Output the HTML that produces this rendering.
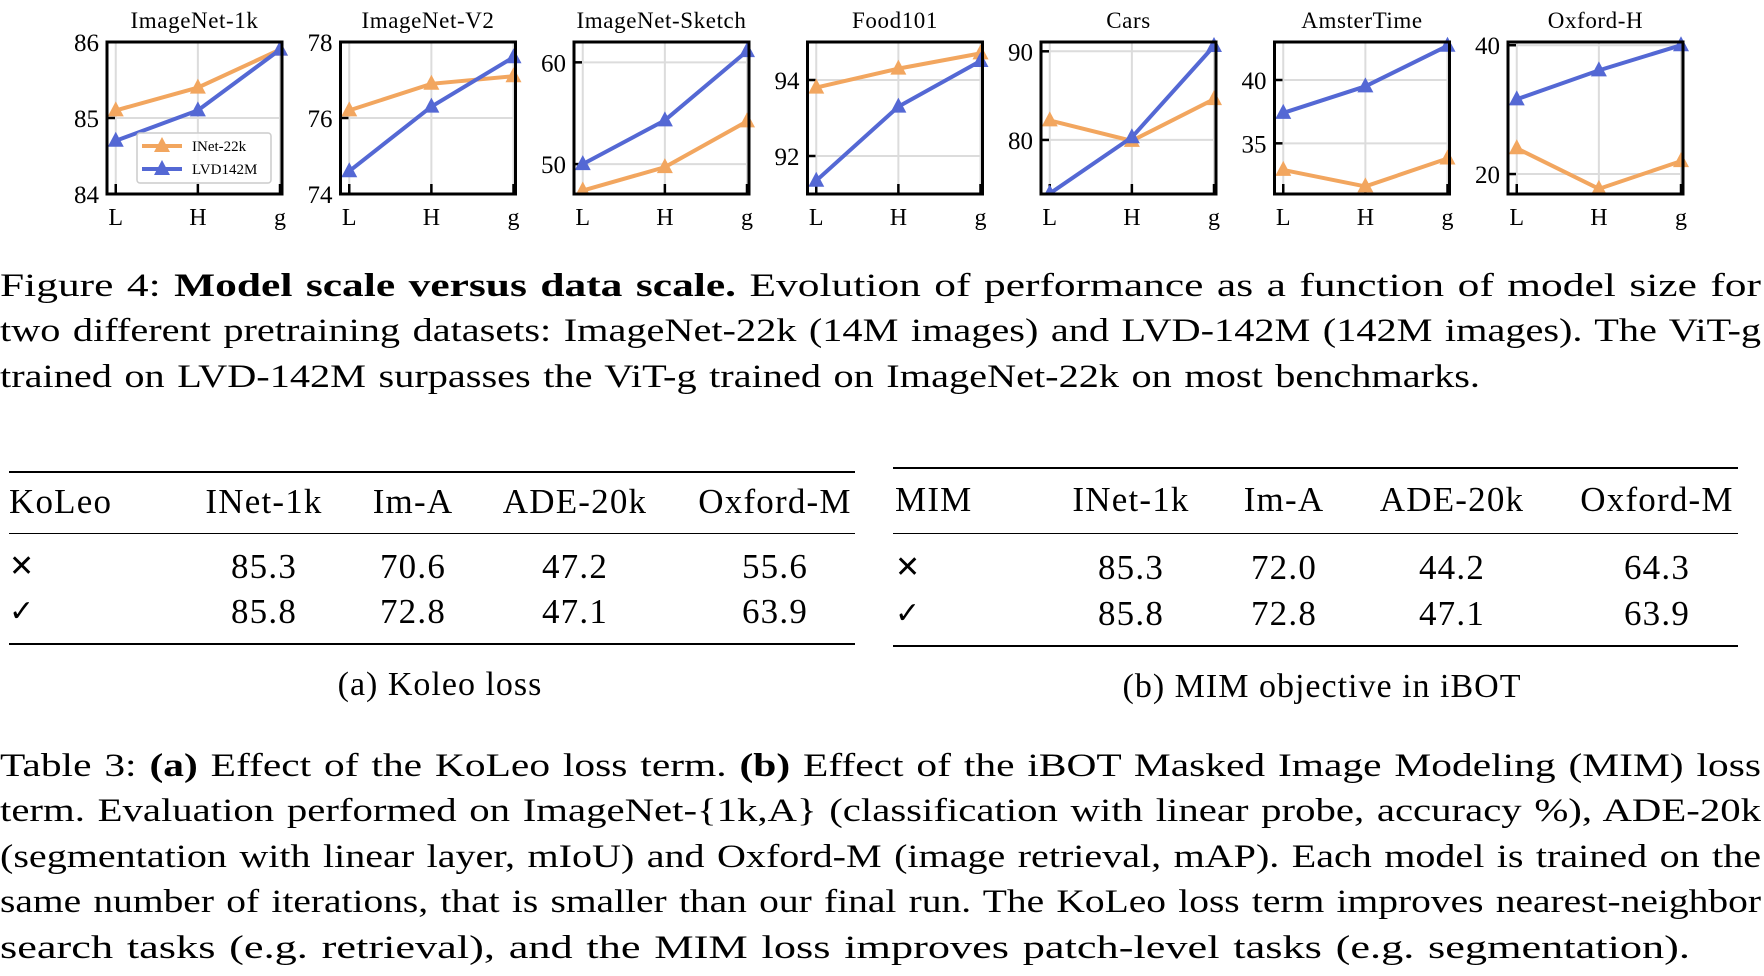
<!DOCTYPE html>
<html><head><meta charset="utf-8">
<style>
body{margin:0;width:1764px;height:976px;background:#fff;position:relative;overflow:hidden;font-family:"Liberation Serif",serif;color:#000}
.l{position:absolute;left:0;font-size:33px;line-height:33px;white-space:nowrap;transform-origin:0 0;word-spacing:2px}
.tbl{position:absolute;font-size:35px;letter-spacing:1.2px}
.rule{position:absolute;height:0;border-top:2.5px solid #000}
.c{position:absolute;transform:translateX(-50%);white-space:nowrap;line-height:35px}
.sub{position:absolute;font-size:34px;letter-spacing:1px;transform:translateX(-50%);white-space:nowrap}
</style></head><body>
<svg id="charts" width="1764" height="240" style="position:absolute;left:0;top:0" font-family="Liberation Serif, serif"></svg>

<div class="l" data-w="1761" style="top:270px">Figure 4: <b>Model scale versus data scale.</b> Evolution of performance as a function of model size for</div>
<div class="l" data-w="1761" style="top:315px">two different pretraining datasets: ImageNet-22k (14M images) and LVD-142M (142M images). The ViT-g</div>
<div class="l" data-w="1480" style="top:361px">trained on LVD-142M surpasses the ViT-g trained on ImageNet-22k on most benchmarks.</div>

<div>
<div class="rule" style="left:9px;width:846px;top:471px"></div>
<div class="rule" style="left:9px;width:846px;top:533px;border-top-width:1.5px"></div>
<div class="rule" style="left:9px;width:846px;top:643px"></div>
<div class="tbl" style="left:0;top:0">
<div class="c" style="left:9px;top:484px;transform:none">KoLeo</div>
<div class="c" style="left:264px;top:484px">INet-1k</div><div class="c" style="left:413px;top:484px">Im-A</div><div class="c" style="left:575px;top:484px">ADE-20k</div><div class="c" style="left:775px;top:484px">Oxford-M</div>
<div class="c" style="left:9px;top:549px;transform:none;font-family:'DejaVu Sans',sans-serif;font-size:30px">✕</div>
<div class="c" style="left:264px;top:549px">85.3</div><div class="c" style="left:413px;top:549px">70.6</div><div class="c" style="left:575px;top:549px">47.2</div><div class="c" style="left:775px;top:549px">55.6</div>
<div class="c" style="left:9px;top:594px;transform:none;font-family:'DejaVu Sans',sans-serif;font-size:30px">✓</div>
<div class="c" style="left:264px;top:594px">85.8</div><div class="c" style="left:413px;top:594px">72.8</div><div class="c" style="left:575px;top:594px">47.1</div><div class="c" style="left:775px;top:594px">63.9</div>
</div></div>
<div class="sub" style="left:440px;top:666px">(a) Koleo loss</div>

<div>
<div class="rule" style="left:893px;width:845px;top:467px"></div>
<div class="rule" style="left:893px;width:845px;top:533px;border-top-width:1.5px"></div>
<div class="rule" style="left:893px;width:845px;top:645px"></div>
<div class="tbl" style="left:0;top:0">
<div class="c" style="left:895px;top:482px;transform:none">MIM</div>
<div class="c" style="left:1131px;top:482px">INet-1k</div><div class="c" style="left:1284px;top:482px">Im-A</div><div class="c" style="left:1452px;top:482px">ADE-20k</div><div class="c" style="left:1657px;top:482px">Oxford-M</div>
<div class="c" style="left:895px;top:550px;transform:none;font-family:'DejaVu Sans',sans-serif;font-size:30px">✕</div>
<div class="c" style="left:1131px;top:550px">85.3</div><div class="c" style="left:1284px;top:550px">72.0</div><div class="c" style="left:1452px;top:550px">44.2</div><div class="c" style="left:1657px;top:550px">64.3</div>
<div class="c" style="left:895px;top:596px;transform:none;font-family:'DejaVu Sans',sans-serif;font-size:30px">✓</div>
<div class="c" style="left:1131px;top:596px">85.8</div><div class="c" style="left:1284px;top:596px">72.8</div><div class="c" style="left:1452px;top:596px">47.1</div><div class="c" style="left:1657px;top:596px">63.9</div>
</div></div>
<div class="sub" style="left:1322px;top:668px">(b) MIM objective in iBOT</div>

<div class="l" data-w="1761" style="top:750px">Table 3: <b>(a)</b> Effect of the KoLeo loss term. <b>(b)</b> Effect of the iBOT Masked Image Modeling (MIM) loss</div>
<div class="l" data-w="1761" style="top:795px">term. Evaluation performed on ImageNet-{1k,A} (classification with linear probe, accuracy %), ADE-20k</div>
<div class="l" data-w="1761" style="top:841px">(segmentation with linear layer, mIoU) and Oxford-M (image retrieval, mAP). Each model is trained on the</div>
<div class="l" data-w="1761" style="top:886px">same number of iterations, that is smaller than our final run. The KoLeo loss term improves nearest-neighbor</div>
<div class="l" data-w="1690" style="top:932px">search tasks (e.g. retrieval), and the MIM loss improves patch-level tasks (e.g. segmentation).</div>

<script>
const titles=["ImageNet-1k","ImageNet-V2","ImageNet-Sketch","Food101","Cars","AmsterTime","Oxford-H"];
const categories=["L","H","g"];
const inet22k=[[85.1,85.4,85.9],[76.2,76.9,77.1],[47.4,49.7,54.2],[93.8,94.3,94.7],[82.2,79.9,84.6],[32.9,31.6,33.8],[24.0,17.7,22.0]];
const lvd142m=[[84.7,85.1,85.9],[74.6,76.3,77.6],[50.0,54.3,61.1],[91.35,93.3,94.5],[73.95,80.3,90.6],[37.4,39.5,42.7],[31.6,36.1,40.0]];
const yMin=[84,74,47.06,91.0,73.9,31.0,16.9];
const yMax=[86,78,62.0,95.0,91.05,43.0,40.5];
const yTicks=[[84,85,86],[74,76,78],[50,60],[92,94],[80,90],[35,40],[20,40]];
const NS="http://www.w3.org/2000/svg";
const svg=document.getElementById('charts');
const ORANGE="#f2a65f",BLUE="#5468d4";
function mk(tag,attrs,parent){const e=document.createElementNS(NS,tag);for(const k in attrs)e.setAttribute(k,attrs[k]);(parent||svg).appendChild(e);return e;}
const W=175,H=152,TOP=42;
titles.forEach((t,i)=>{
  const x0=107+i*233.5;
  const g=mk('g',{});
  
  
  const xs=k=>x0+W*0.05+k*(W*0.95-2)/2;
  const ys=v=>TOP+H-(v-yMin[i])/(yMax[i]-yMin[i])*H;
  categories.forEach((c,k)=>{
    mk('line',{x1:xs(k),x2:xs(k),y1:TOP,y2:TOP+H,stroke:'#dcdcdc','stroke-width':2},g);
    mk('line',{x1:xs(k),x2:xs(k),y1:TOP+H,y2:TOP+H-10,stroke:'#000','stroke-width':2.5},g);
    const tx=mk('text',{x:xs(k),y:TOP+H+31,'text-anchor':'middle','font-size':24},g);tx.textContent=c;
    
    
  });
  yTicks[i].forEach(v=>{
    mk('line',{x1:x0,x2:x0+W,y1:ys(v),y2:ys(v),stroke:'#dcdcdc','stroke-width':2},g);
    mk('line',{x1:x0,x2:x0+8,y1:ys(v),y2:ys(v),stroke:'#000','stroke-width':2.5},g);
    const tx=mk('text',{x:x0-8,y:ys(v)+9,'text-anchor':'end','font-size':25},g);tx.textContent=v;
    
    
  });
  const cl=mk('clipPath',{id:'c'+i},g);mk('rect',{x:x0-8,y:TOP-8,width:W+16,height:H+8},cl);
  [[inet22k,ORANGE,'inet-22k'],[lvd142m,BLUE,'lvd142m']].forEach(([arr,col,nm])=>{
    const s=mk('g',{'clip-path':'url(#c'+i+')'},g);
    
    
    mk('polyline',{points:arr[i].map((v,k)=>xs(k)+','+ys(v)).join(' '),fill:'none',stroke:col,'stroke-width':4},s);
    arr[i].forEach((v,k)=>{const x=xs(k),y=ys(v);
      const p=mk('polygon',{points:`${x},${y-9} ${x-8},${y+6} ${x+8},${y+6}`,fill:col},s);
      
      });
  });
  mk('rect',{x:x0,y:TOP,width:W,height:H,fill:'none',stroke:'#000','stroke-width':3},g);
  const tt=mk('text',{x:x0+W/2,y:TOP-14,'text-anchor':'middle','font-size':23,'letter-spacing':0.6},g);tt.textContent=t;
  
  
});
const lg=mk('g',{});


mk('rect',{x:137,y:133,width:134,height:50,rx:3,fill:'#fff','fill-opacity':0.85,stroke:'#ccc','stroke-width':1.5},lg);
[[ORANGE,'INet-22k',146],[BLUE,'LVD142M',169]].forEach(([col,lab,y])=>{
  mk('line',{x1:142,x2:182,y1:y,y2:y,stroke:col,'stroke-width':4},lg);
  mk('polygon',{points:`162,${y-9} 154,${y+6} 170,${y+6}`,fill:col},lg);
  const tx=mk('text',{x:192,y:y+5,'font-size':15},lg);tx.textContent=lab;
  
  
});
// fit caption lines to target widths by horizontal scaling
document.querySelectorAll('.l').forEach(el=>{
  const target=+el.dataset.w;
  const w=el.getBoundingClientRect().width;
  el.style.transform='scaleX('+(target/w)+')';
});
</script>
</body></html>
